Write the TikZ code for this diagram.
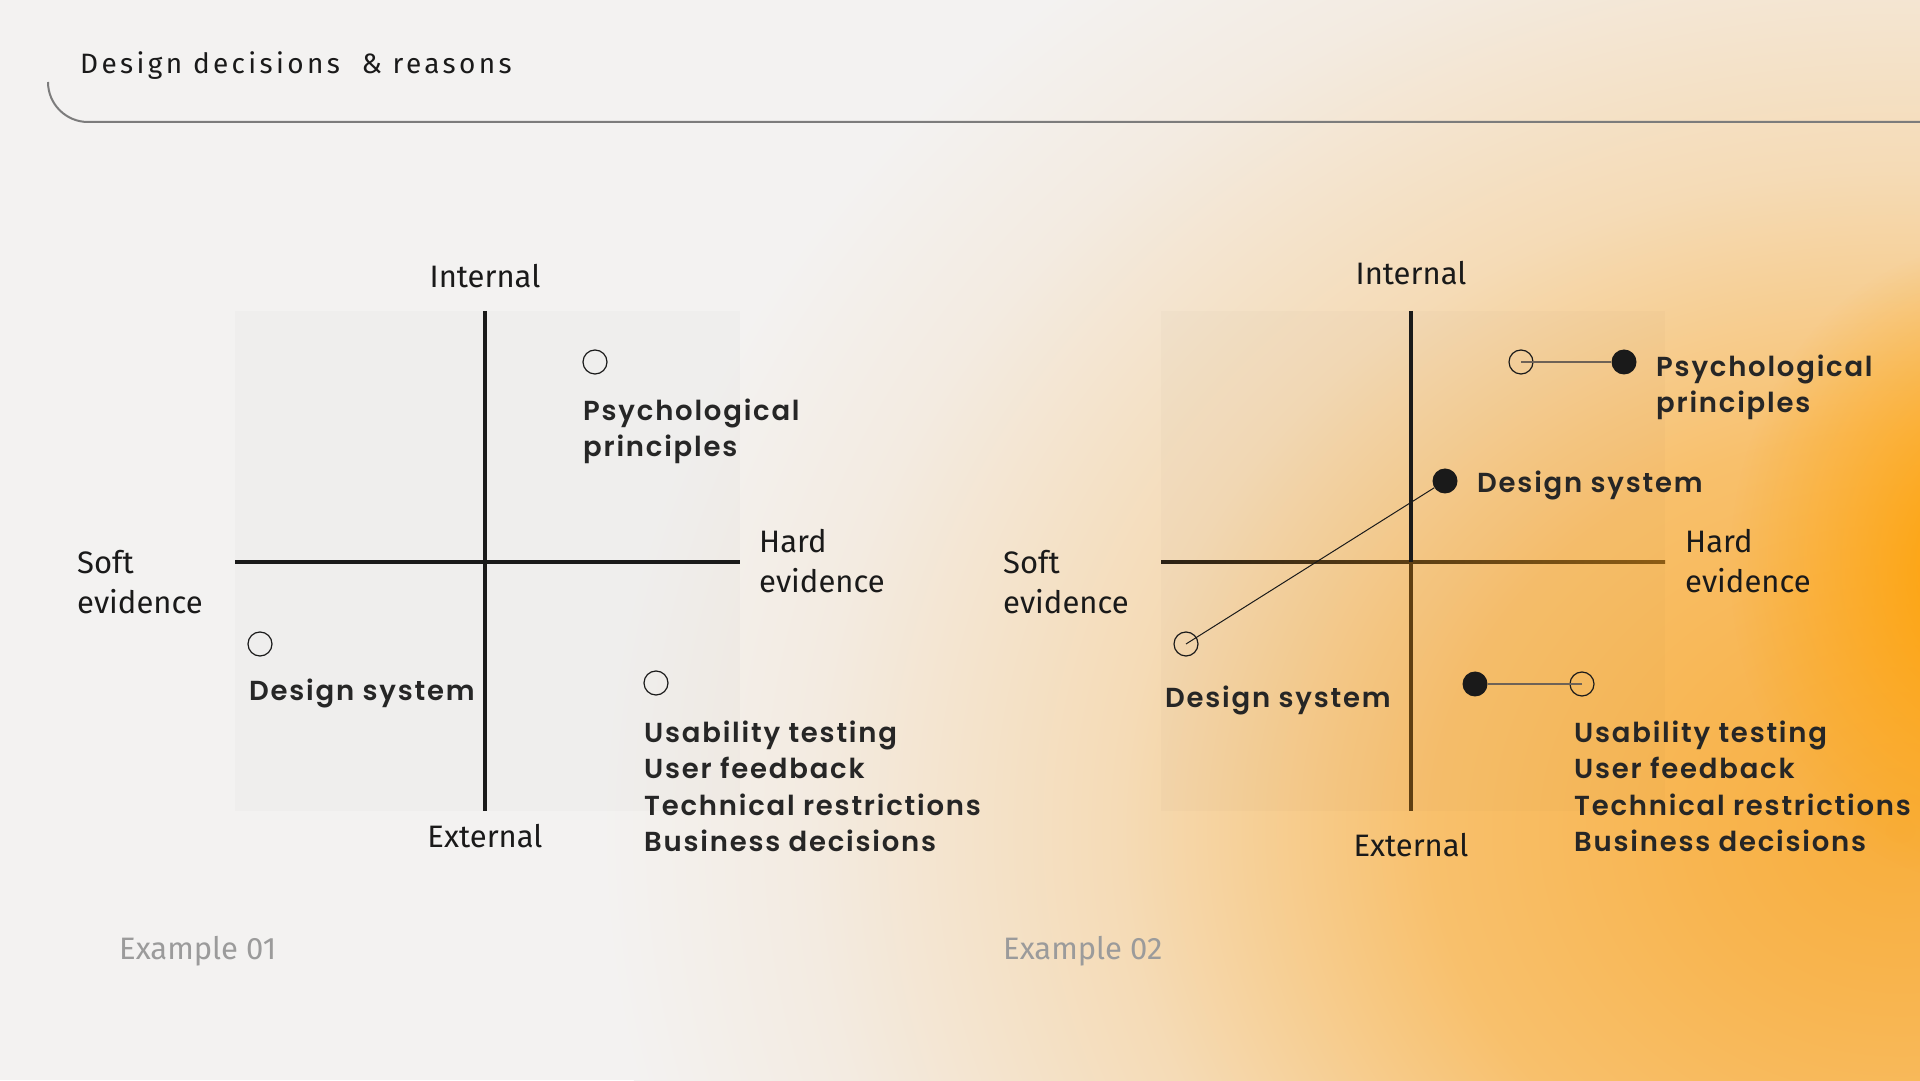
\documentclass[tikz,border=0pt]{standalone}
\usepackage{fontspec}
\usepackage{xcolor}
\usepackage{tikz}
\usetikzlibrary{positioning,calc,fadings}
\setmainfont{Fira Sans}
\newfontfamily\tagfont{Poppins SemiBold}[LetterSpace=6.5]
\newfontfamily\titlefont{Fira Sans}[LetterSpace=12]
\definecolor{paper}{HTML}{F3F2F1}
\definecolor{ink}{HTML}{1A1A1A}
\definecolor{tagink}{HTML}{262626}
\definecolor{rulegray}{HTML}{7C7C7C}
\definecolor{captiongray}{HTML}{9B9B9B}
\definecolor{linkgray}{HTML}{6E6256}
\definecolor{axisdark}{HTML}{2B2115}
\definecolor{axisbrown}{HTML}{8C5C14}
\definecolor{axislow}{HTML}{5F3F12}
\definecolor{glow}{HTML}{FFA000}
\definecolor{washA}{HTML}{F8AE3C}
\definecolor{washB}{HTML}{F8B550}
\definecolor{washC}{HTML}{F8C06C}
\definecolor{washD}{HTML}{F5DBB6}
\definecolor{washE}{HTML}{F3EBE1}
\pgfdeclareradialshading{warmwash}{\pgfpoint{0bp}{0bp}}{color(0bp)=(washA); color(4bp)=(washB); color(9bp)=(washC); color(15bp)=(washD); color(21bp)=(washE); color(25bp)=(paper); color(50bp)=(paper)}
\tikzfading[name=corefade,inner color=transparent!0,outer color=transparent!100]
\tikzset{
  every node/.style={inner sep=0pt,text=ink},
  rule/.style={draw=rulegray,line width=2pt},
  titletext/.style={font=\titlefont\fontsize{28}{34}\selectfont},
  quad/.style={fill=black,fill opacity=.015},
  axis/.style={draw=ink,line width=3.5pt},
  axislabel/.style={font=\fontsize{31}{40}\selectfont,align=left},
  tag/.style={font=\tagfont\fontsize{27.5}{36.5}\selectfont,align=left,text=tagink},
  ring/.style={circle,draw=ink,line width=1.2pt,minimum size=24pt},
  dot/.style={circle,fill=ink,minimum size=25pt},
  link/.style={draw=linkgray,line width=1.8pt},
  slant/.style={draw=ink,line width=1pt},
  caption/.style={font=\fontsize{31}{36}\selectfont,text=captiongray}
}
\begin{document}
\begin{tikzpicture}[x=1pt,y=1pt]
  \useasboundingbox (0,0) rectangle (1920,1080);
  \fill[paper] (0,0) rectangle (1920,1080);
  \begin{scope}
    \clip (0,0) rectangle (1920,1080);
    \shade[shading=warmwash] (1900,250) ellipse [x radius=1300,y radius=1100];
    \fill[glow,path fading=corefade] (1990,515) ellipse [x radius=260,y radius=320];
  \end{scope}

  \draw[rule] (48,998) arc[start angle=180,end angle=270,radius=40] -- (1920,958);
  \node[titletext,anchor=base west] (title) at (80,1006) {Design decisions\ \ \& reasons};

  % Example 01
  \fill[quad] (235,269) rectangle (740,769);
  \coordinate (ltop) at (485,769); \coordinate (lbot) at (485,269);
  \coordinate (lleft) at (235,518); \coordinate (lright) at (740,518);
  \draw[axis] (ltop)--(lbot); \draw[axis] (lleft)--(lright);
  \node[axislabel,above=23pt of ltop] (lint) {Internal};
  \node[axislabel,below=13pt of lbot] (lext) {External};
  \node[axislabel,anchor=north west] (lsoft) at (77,530) {Soft\\evidence};
  \node[axislabel,anchor=north west] (lhard) at (759,551) {Hard\\evidence};

  \node[ring] (lpsyring) at (595,718) {};
  \node[tag,anchor=north west] (lpsy) at (583,681.6) {Psychological\\principles};
  \node[ring] (ldsring) at (260,436) {};
  \node[tag,anchor=north west] (lds) at (249,401.6) {Design system};
  \node[ring] (lusering) at (656,397) {};
  \node[tag,anchor=north west] (luse) at (644,359.6) {Usability testing\\User feedback\\Technical restrictions\\Business decisions};
  \node[caption,anchor=base west] (ex1) at (119,121) {Example 01};

  % Example 02
  \fill[quad] (1161,269) rectangle (1665,769);
  \coordinate (rtop) at (1411,769); \coordinate (rbot) at (1411,269);
  \coordinate (rmid) at (1411,518);
  \coordinate (rleft) at (1161,518); \coordinate (rright) at (1665,518);
  \shade[left color=axisdark,right color=axisbrown] ($(rleft)+(0,-1.75)$) rectangle ($(rright)+(0,1.75)$);
  \draw[axis] (rtop)--(rmid); \draw[axis,draw=axislow] (rmid)--(rbot);
  \node[axislabel,above=26pt of rtop] (rint) {Internal};
  \node[axislabel,below=22pt of rbot] (rext) {External};
  \node[axislabel,anchor=north west] (rsoft) at (1003,530) {Soft\\evidence};
  \node[axislabel,anchor=north west] (rhard) at (1685,551) {Hard\\evidence};

  \node[ring] (rpsyring) at (1521,718) {};
  \node[dot] (rpsydot) at (1624,718) {};
  \node[tag,anchor=north west] (rpsy) at (1656,725.6) {Psychological\\principles};
  \node[ring] (rdsring) at (1186,436) {};
  \node[dot] (rdsdot) at (1445,599) {};
  \node[tag,anchor=north west] (rdsup) at (1477,609.6) {Design system};
  \node[tag,anchor=north west] (rds) at (1165,394.6) {Design system};
  \node[dot] (rusedot) at (1475,396) {};
  \node[ring] (rusering) at (1582,396) {};
  \node[tag,anchor=north west] (ruse) at (1574,359.6) {Usability testing\\User feedback\\Technical restrictions\\Business decisions};
  \node[caption,anchor=base west] (ex2) at (1003,121) {Example 02};

  \draw[link] (rpsyring.center)--(rpsydot);
  \draw[link] (rusering.center)--(rusedot);
  \draw[slant] (rdsring.center)--(rdsdot);
\end{tikzpicture}
\end{document}
